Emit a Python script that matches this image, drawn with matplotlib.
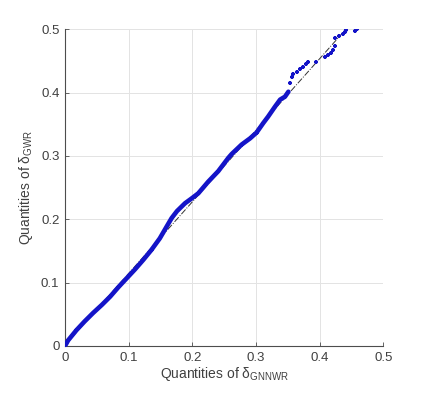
import matplotlib
matplotlib.use("Agg")
import matplotlib.pyplot as plt

plt.rcParams["font.family"] = ["Liberation Sans", "DejaVu Sans"]
plt.rcParams["mathtext.fontset"] = "custom"
plt.rcParams["mathtext.rm"] = "Liberation Sans"
plt.rcParams["mathtext.it"] = "Liberation Sans"

# quantile pairs (dense part of the curve)
q_gnnwr = [0.0, 0.005, 0.018, 0.031, 0.044, 0.058, 0.071, 0.084, 0.097, 0.110,
           0.123, 0.136, 0.149, 0.160, 0.1676, 0.176, 0.1885, 0.199, 0.2094,
           0.225, 0.2408, 0.2566, 0.2618, 0.2775, 0.291, 0.301, 0.3115, 0.319,
           0.330, 0.338, 0.3456, 0.351]
q_gwr = [0.0, 0.009, 0.025, 0.039, 0.052, 0.065, 0.078, 0.093, 0.107, 0.121,
         0.136, 0.152, 0.170, 0.189, 0.202, 0.213, 0.2253, 0.233, 0.241,
         0.2594, 0.276, 0.297, 0.303, 0.318, 0.328, 0.337, 0.352, 0.362,
         0.378, 0.389, 0.3936, 0.4015]

# sparse upper tail
tail_gnnwr = [0.353, 0.356, 0.359, 0.364, 0.369, 0.374, 0.378, 0.382, 0.395,
              0.408, 0.413, 0.418, 0.421, 0.424, 0.424, 0.430, 0.436, 0.440,
              0.442, 0.455, 0.459]
tail_gwr = [0.415, 0.424, 0.430, 0.433, 0.437, 0.441, 0.445, 0.449, 0.449,
            0.457, 0.460, 0.463, 0.468, 0.473, 0.486, 0.489, 0.492, 0.496,
            0.499, 0.498, 0.500]

# reference line endpoints (through the quartiles, over the data range)
ref_x = [0.0, 0.46]
ref_y = [0.0015, 0.5213]

blue = "#1414c8"
text_c = "#404040"

fig = plt.figure(figsize=(4.37, 3.93), dpi=100)
ax = fig.add_axes([0.1487, 0.1196, 0.7283, 0.8058])

ax.plot(ref_x, ref_y, color="#333333", linestyle="-.", linewidth=0.7, zorder=2)
ax.plot(q_gnnwr, q_gwr, color=blue, linewidth=3.3, solid_capstyle="round", zorder=3)
ax.plot(q_gnnwr, q_gwr, linestyle="none", marker="+", markersize=3,
        markeredgewidth=1.2, color=blue, zorder=3)
ax.plot(tail_gnnwr, tail_gwr, linestyle="none", marker="+", markersize=3.5,
        markeredgewidth=1.6, color=blue, zorder=3)

ax.set_xlim(0, 0.5)
ax.set_ylim(0, 0.5)
ax.set_xticks([0, 0.1, 0.2, 0.3, 0.4, 0.5])
ax.set_yticks([0, 0.1, 0.2, 0.3, 0.4, 0.5])
ax.set_xticklabels(["0", "0.1", "0.2", "0.3", "0.4", "0.5"])
ax.set_yticklabels(["0", "0.1", "0.2", "0.3", "0.4", "0.5"])

ax.grid(True, color="#e3e3e3", linewidth=0.7)
ax.set_axisbelow(True)
for s in ["top", "right"]:
    ax.spines[s].set_visible(False)
for s in ["left", "bottom"]:
    ax.spines[s].set_color("#4d4d4d")
    ax.spines[s].set_linewidth(0.8)
ax.tick_params(direction="in", length=3, width=0.6, colors="#4d4d4d",
               labelcolor=text_c, labelsize=9.5, pad=4)

ax.set_xlabel(r"Quantities of $\mathregular{\delta_{GNNWR}}$", fontsize=10,
              color=text_c, labelpad=1)
ax.set_ylabel(r"Quantities of $\mathregular{\delta_{GWR}}$", fontsize=10,
              color=text_c, labelpad=4)

fig.savefig("out.png", dpi=100)
